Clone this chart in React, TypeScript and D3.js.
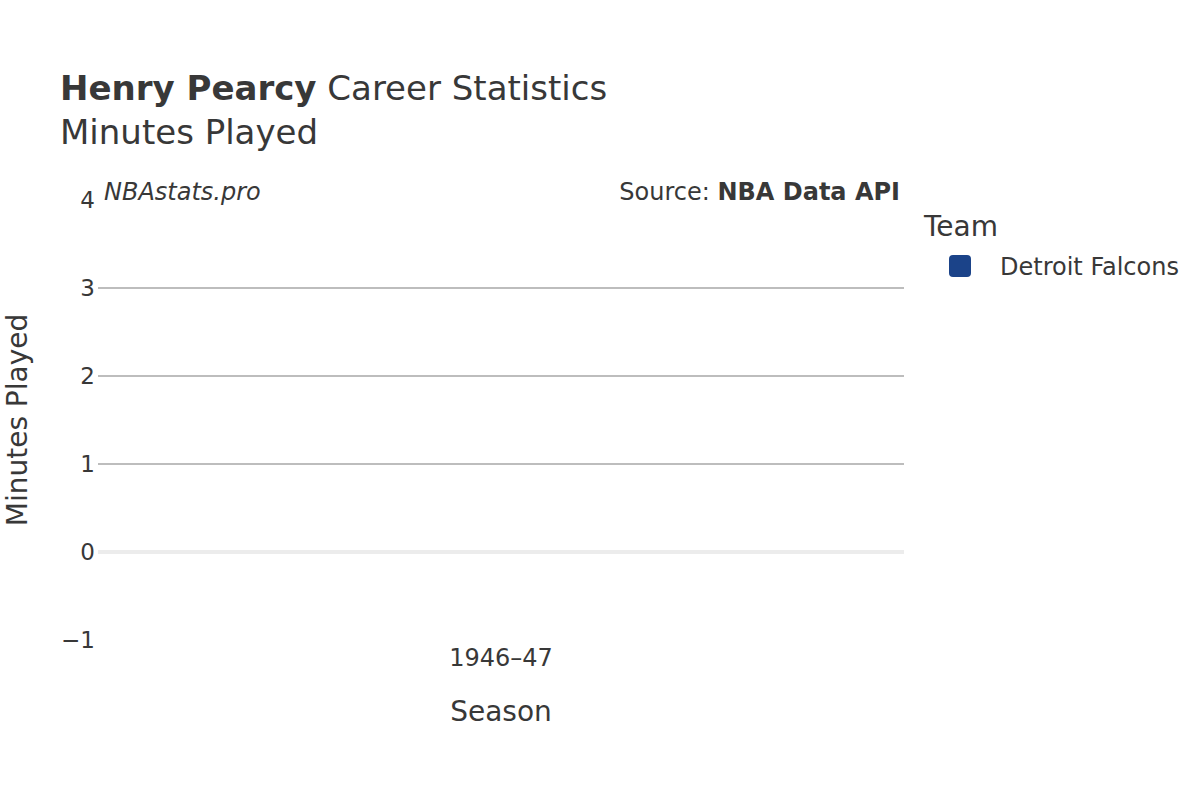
import { useEffect, useRef } from 'react';
import * as d3 from 'd3';

const seasons = ['1946–47'];
const teams = ['Detroit Falcons'];
const teamColors = ['#1b4389'];
const minutes = [0];
const yTicks = [-1, 0, 1, 2, 3, 4];

export default function App() {
  const svgRef = useRef<SVGSVGElement>(null);

  useEffect(() => {
    if (!svgRef.current) return;
    const svg = d3.select(svgRef.current);
    svg.selectAll('*').remove();

    const width = 1200;
    const height = 800;
    const margin = { top: 200, right: 296, bottom: 160, left: 98 };
    const font = 'DejaVu Sans, sans-serif';
    const ink = '#383838';

    const x = d3.scaleBand()
      .domain(seasons)
      .range([margin.left, width - margin.right])
      .padding(0.2);

    const y = d3.scaleLinear()
      .domain([-1, 4])
      .range([height - margin.bottom, margin.top]);

    svg.append('rect').attr('width', width).attr('height', height).attr('fill', '#fff');

    // grid
    svg.append('g')
      .selectAll('line')
      .data(yTicks.filter(t => t > 0 && t < 4))
      .enter().append('line')
      .attr('x1', margin.left)
      .attr('x2', width - margin.right)
      .attr('y1', d => y(d))
      .attr('y2', d => y(d))
      .attr('stroke', '#bdbdbd')
      .attr('stroke-width', 2);

    svg.append('line')
      .attr('x1', margin.left)
      .attr('x2', width - margin.right)
      .attr('y1', y(0))
      .attr('y2', y(0))
      .attr('stroke', '#ececec')
      .attr('stroke-width', 4);

    // bars
    svg.append('g')
      .selectAll('rect')
      .data(minutes)
      .enter().append('rect')
      .attr('x', (_, i) => x(seasons[i])!)
      .attr('width', x.bandwidth())
      .attr('y', d => Math.min(y(d), y(0)))
      .attr('height', d => Math.abs(y(d) - y(0)))
      .attr('fill', teamColors[0]);

    // y tick labels
    svg.append('g')
      .selectAll('text')
      .data(yTicks)
      .enter().append('text')
      .attr('x', margin.left - 3)
      .attr('y', d => y(d))
      .attr('dy', '0.36em')
      .attr('text-anchor', 'end')
      .attr('font-family', font)
      .attr('font-size', 23)
      .attr('fill', ink)
      .text(d => (d < 0 ? '\u2212' + Math.abs(d) : String(d)));

    // x tick labels
    svg.append('g')
      .selectAll('text')
      .data(seasons)
      .enter().append('text')
      .attr('x', d => x(d)! + x.bandwidth() / 2)
      .attr('y', 666)
      .attr('text-anchor', 'middle')
      .attr('font-family', font)
      .attr('font-size', 24)
      .attr('fill', ink)
      .text(d => d);

    // axis titles
    svg.append('text')
      .attr('x', (margin.left + width - margin.right) / 2)
      .attr('y', 721)
      .attr('text-anchor', 'middle')
      .attr('font-family', font)
      .attr('font-size', 28)
      .attr('fill', ink)
      .text('Season');

    svg.append('text')
      .attr('transform', `translate(27, ${(y(-1) + y(4)) / 2}) rotate(-90)`)
      .attr('text-anchor', 'middle')
      .attr('font-family', font)
      .attr('font-size', 28)
      .attr('fill', ink)
      .text('Minutes Played');

    // title
    const title = svg.append('text')
      .attr('x', 60)
      .attr('y', 100)
      .attr('font-family', font)
      .attr('font-size', 34)
      .attr('fill', ink);
    title.append('tspan').attr('font-weight', 'bold').text('Henry Pearcy');
    title.append('tspan').text(' Career Statistics');

    svg.append('text')
      .attr('x', 60)
      .attr('y', 144)
      .attr('font-family', font)
      .attr('font-size', 34)
      .attr('fill', ink)
      .text('Minutes Played');

    // annotations
    svg.append('text')
      .attr('x', 104)
      .attr('y', 200)
      .attr('font-family', font)
      .attr('font-size', 24)
      .attr('font-style', 'italic')
      .attr('fill', ink)
      .text('NBAstats.pro');

    const src = svg.append('text')
      .attr('x', 900)
      .attr('y', 200)
      .attr('text-anchor', 'end')
      .attr('font-family', font)
      .attr('font-size', 24)
      .attr('fill', ink);
    src.append('tspan').text('Source: ');
    src.append('tspan').attr('font-weight', 'bold').text('NBA Data API');

    // legend
    svg.append('text')
      .attr('x', 924)
      .attr('y', 236)
      .attr('font-family', font)
      .attr('font-size', 28)
      .attr('fill', ink)
      .text('Team');

    const legend = svg.append('g')
      .selectAll('g')
      .data(teams)
      .enter().append('g')
      .attr('transform', (_, i) => `translate(949, ${255 + i * 30})`);

    legend.append('rect')
      .attr('width', 22)
      .attr('height', 22)
      .attr('rx', 4)
      .attr('fill', (_, i) => teamColors[i]);

    legend.append('text')
      .attr('x', 51)
      .attr('y', 11)
      .attr('dy', '0.36em')
      .attr('font-family', font)
      .attr('font-size', 24)
      .attr('fill', ink)
      .text(d => d);
  }, []);

  return (
    <svg
      ref={svgRef}
      width="1200"
      height="800"
      style={{ position: 'absolute', left: 0, top: 0 }}
    />
  );
}
